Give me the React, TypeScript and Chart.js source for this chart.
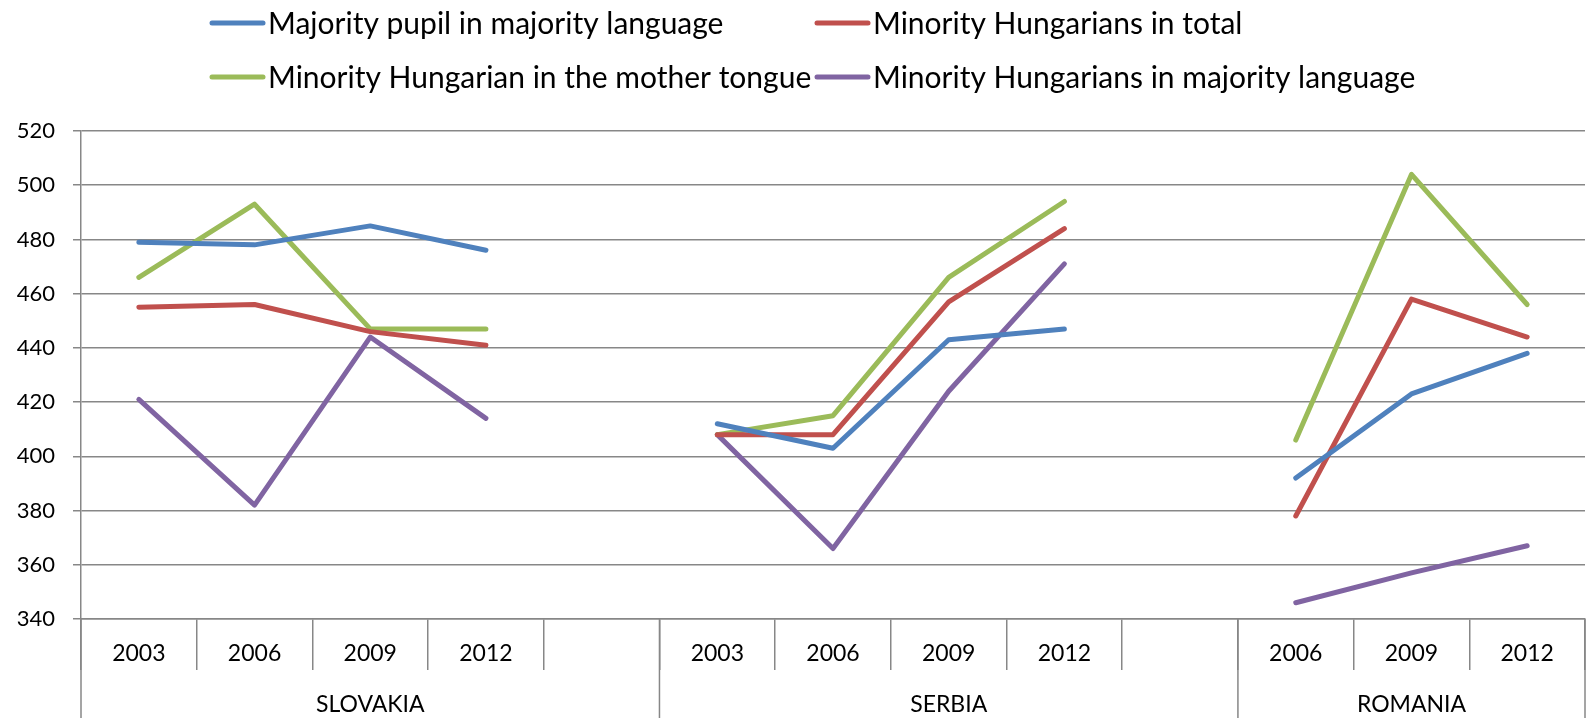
import React, { useEffect, useRef } from "react";
import { Chart, registerables } from "chart.js";

Chart.register(...registerables);

// ---- data ----
const categories = ["2003", "2006", "2009", "2012", "", "2003", "2006", "2009", "2012", "", "2006", "2009", "2012"];
const countries = ["SLOVAKIA", "SERBIA", "ROMANIA"];
const countryStart = [0, 5, 10];
const countryEnd = [5, 10, 13];

const majorityPupil = [479, 478, 485, 476, null, 412, 403, 443, 447, null, 392, 423, 438];
const minorityTotal = [455, 456, 446, 441, null, 408, 408, 457, 484, null, 378, 458, 444];
const minorityMotherTongue = [466, 493, 447, 447, null, 408, 415, 466, 494, null, 406, 504, 456];
const minorityMajorityLang = [421, 382, 444, 414, null, 408, 366, 424, 471, null, 346, 357, 367];

const seriesLabels = [
  "Majority pupil in majority language",
  "Minority Hungarians in total",
  "Minority Hungarian in the mother tongue",
  "Minority Hungarians in majority language",
];
const seriesColors = ["#4F81BD", "#C0504D", "#9BBB59", "#8064A2"];

const yMin = 340;
const yMax = 520;
const yStep = 20;

const FONT = "Lato, 'Open Sans', sans-serif";
const GRID = "#878787";

const legendPlugin = {
  id: "customLegend",
  afterDraw(chart: any) {
    const ctx = chart.ctx;
    const colX = [210, 815];
    const rowY = [23, 77];
    ctx.save();
    chart.data.datasets.forEach((ds: any, i: number) => {
      const x = colX[i % 2];
      const y = rowY[Math.floor(i / 2)];
      ctx.strokeStyle = ds.borderColor;
      ctx.lineWidth = 5;
      ctx.lineCap = "round";
      ctx.beginPath();
      ctx.moveTo(x + 2, y);
      ctx.lineTo(x + 53, y);
      ctx.stroke();
      ctx.fillStyle = "#000";
      ctx.font = `30px ${FONT}`;
      ctx.textBaseline = "middle";
      ctx.textAlign = "left";
      ctx.fillText(ds.label, x + 58, y + 1);
    });
    ctx.restore();
  },
};

const groupPlugin = {
  id: "groupAxis",
  afterDraw(chart: any) {
    const ctx = chart.ctx;
    const xs = chart.scales.x;
    const n = chart.data.labels.length;
    const w = (xs.right - xs.left) / n;
    const bottom = chart.height;
    ctx.save();
    ctx.strokeStyle = GRID;
    ctx.lineWidth = 1.5;
    const bounds = [0, ...countryEnd];
    bounds.forEach((b) => {
      const x = xs.left + b * w;
      ctx.beginPath();
      ctx.moveTo(x, xs.top);
      ctx.lineTo(x, bottom);
      ctx.stroke();
    });
    ctx.fillStyle = "#000";
    ctx.font = `23px ${FONT}`;
    ctx.textAlign = "center";
    ctx.textBaseline = "middle";
    countries.forEach((c, i) => {
      const cx = xs.left + ((countryStart[i] + countryEnd[i]) / 2) * w;
      ctx.fillText(c, cx, 705);
    });
    ctx.restore();
  },
};

export default function App() {
  const ref = useRef<HTMLCanvasElement>(null);
  useEffect(() => {
    document.body.style.margin = "0";
    const series = [majorityPupil, minorityTotal, minorityMotherTongue, minorityMajorityLang];
    const chart = new Chart(ref.current!, {
      type: "line",
      data: {
        labels: categories,
        datasets: series.map((d, i) => ({
          label: seriesLabels[i],
          data: d,
          borderColor: seriesColors[i],
          backgroundColor: seriesColors[i],
          borderWidth: 5,
          pointRadius: 0,
          tension: 0,
          spanGaps: false,
          borderCapStyle: "round" as const,
          borderJoinStyle: "round" as const,
        })),
      },
      options: {
        responsive: false,
        animation: false,
        devicePixelRatio: 1,
        layout: { padding: { top: 131, right: 8, left: 0, bottom: 0 } },
        plugins: { legend: { display: false }, tooltip: { enabled: false } },
        scales: {
          x: {
            type: "category",
            offset: true,
            grid: {
              display: true,
              offset: true,
              drawOnChartArea: false,
              drawTicks: true,
              tickLength: 51,
              color: GRID,
              lineWidth: 1.5,
            },
            border: { display: true, color: GRID, width: 1.5 },
            ticks: {
              color: "#000",
              font: { family: FONT, size: 23 },
              padding: -30,
              maxRotation: 0,
              autoSkip: false,
            },
            afterFit: (s: any) => {
              s.height = 99;
            },
          },
          y: {
            min: yMin,
            max: yMax,
            ticks: {
              stepSize: yStep,
              color: "#000",
              font: { family: FONT, size: 22 },
              padding: 18,
            },
            grid: { color: GRID, lineWidth: 1.5, tickLength: 8 },
            border: { display: true, color: GRID, width: 1.5 },
            afterFit: (s: any) => {
              s.width = 81;
            },
          },
        },
      },
      plugins: [legendPlugin, groupPlugin],
    });
    return () => chart.destroy();
  }, []);
  return <canvas ref={ref} width={1593} height={718} style={{ display: "block" }} />;
}
